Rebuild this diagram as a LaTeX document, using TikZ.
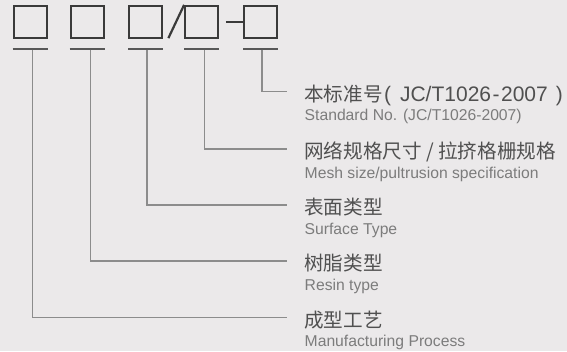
\documentclass[tikz,border=0pt]{standalone}
\usepackage{fontspec}
\setmainfont{Liberation Sans}
\newfontfamily\cjk{Noto Sans CJK SC}
\definecolor{bg}{HTML}{EBE9EA}
\definecolor{boxc}{HTML}{3A3A3A}
\definecolor{linec}{HTML}{8C8C8C}
\definecolor{cnc}{HTML}{505050}
\definecolor{enc}{HTML}{7C7C7C}
\begin{document}
\begin{tikzpicture}[x=1pt,y=-1pt,
  codebox/.style={draw=boxc,line width=2.2pt,minimum width=33pt,minimum height=32pt,inner sep=0pt},
  uline/.style={draw=boxc!85!white,line width=2pt},
  conn/.style={draw=linec,line width=1.3pt},
  cnlabel/.style={anchor=base west,inner sep=0pt,text=cnc,font=\fontsize{19.6}{22}\selectfont},
  enlabel/.style={anchor=base west,inner sep=0pt,text=enc,font=\fontsize{15.7}{18}\selectfont}]
\fill[bg] (0,0) rectangle (567,351);
\useasboundingbox (0,0) rectangle (567,351);
% code boxes
\node[codebox] (b1) at (30.2,22) {};
\node[codebox] (b2) at (87.4,22) {};
\node[codebox] (b3) at (145.8,22) {};
\node[codebox] (b4) at (201.7,22) {};
\node[codebox] (b5) at (260.3,22) {};
\draw[boxc,line width=2.2pt] (b3.south east) ++(5,-1) coordinate (s1) -- (b4.north west) coordinate (s2);
\draw[boxc,line width=2.2pt] (b4.east) ++(6.5,0) coordinate (d1) -- (b5.west);
% underlines
\foreach \i/\xa/\xb in {1/12.7/47.7,2/69.7/105,3/128.3/163.3,4/184/219.3,5/243/277.7}{
  \draw[uline] (\xa,48.7) -- (\xb,48.7);
}
% labels
\foreach \i/\y in {5/91.3,4/149,3/205,2/261,1/317.3}{
  \coordinate (e\i) at (287,\y);
}
\node[cnlabel] (c5) at (304,101) {{\cjk 本标准号}\kern1.5pt{\fontsize{21}{22}\selectfont(\kern9pt JC/T1026{\kern1.5pt}-{\kern1.5pt}2007\kern8pt)}};
\node[enlabel] (n5) at (304.5,120.7) {Standard No. (JC/T1026-2007)};
\node[cnlabel] (c4) at (304,158.7) {\cjk 网络规格尺寸 / 拉挤格栅规格};
\node[enlabel] (n4) at (304.5,178.4) {Mesh size/pultrusion specification};
\node[cnlabel] (c3) at (304,214.7) {\cjk 表面类型};
\node[enlabel] (n3) at (304.5,234.4) {Surface Type};
\node[cnlabel] (c2) at (304,270.7) {\cjk 树脂类型};
\node[enlabel] (n2) at (304.5,290.4) {Resin type};
\node[cnlabel] (c1) at (304,327) {\cjk 成型工艺};
\node[enlabel] (n1) at (304.5,346.7) {Manufacturing Process};
% connectors
\coordinate (t1) at (32.7,49.7);
\coordinate (t2) at (90.7,49.7);
\coordinate (t3) at (147,49.7);
\coordinate (t4) at (204.3,49.7);
\coordinate (t5) at (262,49.7);
\foreach \i in {1,...,5}{
  \draw[conn] (t\i) |- (e\i);
}
\end{tikzpicture}
\end{document}
